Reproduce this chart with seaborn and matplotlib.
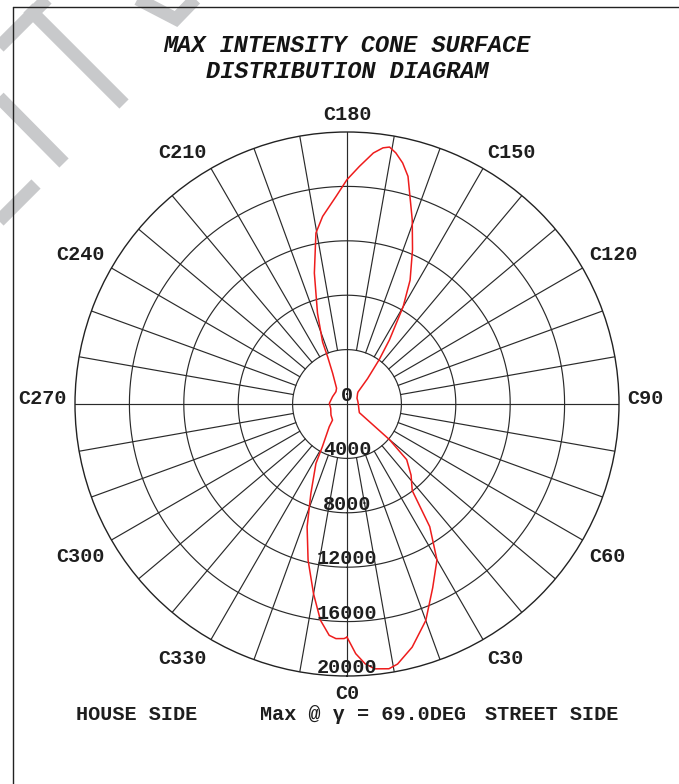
import numpy as np
import pandas as pd
import matplotlib
matplotlib.use("Agg")
import matplotlib.pyplot as plt
import seaborn as sns
from matplotlib.lines import Line2D
from matplotlib.transforms import ScaledTranslation

# ---- data (C-plane angle in degrees, max intensity) ----
c_angles = [0, 2, 4, 6, 9, 11, 15, 20, 25, 30, 34, 37, 42, 47, 50, 55, 63, 90, 105,
            120, 135, 137.5, 141, 144, 146.5, 150, 153, 157, 160.5, 165, 167, 169,
            170.6, 172, 174, 177, 180, 183, 187.4, 190.3, 194, 198, 201.5, 202.3,
            205, 213.5, 222, 243, 268, 285, 304.5, 318, 322, 330, 332.4, 338, 342,
            346, 350, 353, 355.6, 357.3, 359.3, 360]
intensity = [17140, 18370, 19150, 19580, 19710, 19480, 18510, 16940, 14910, 13230,
             10880, 7970, 7040, 6000, 4080, 1110, 990, 830, 820, 850, 1100, 1200,
             2400, 4010, 5650, 8250, 10220, 12330, 14370, 17330, 18190, 18810,
             19150, 19020, 18560, 17500, 16500, 15290, 13910, 12780, 9920, 7020,
             4900, 3760, 2500, 1390, 1215, 1190, 1300, 1240, 1430, 1590, 2120,
             3620, 4930, 7090, 9490, 11830, 14170, 16020, 17060, 17270, 17250, 17140]

ring_values = [4000, 8000, 12000, 16000, 20000]
ring_labels = ["0", "4000", "8000", "12000", "16000", "20000"]
c_label_angles = list(range(0, 360, 30))
spoke_angles = list(range(0, 360, 10))

title_lines = ["MAX INTENSITY CONE SURFACE", "DISTRIBUTION DIAGRAM"]
house_text = "HOUSE SIDE"
max_text = "Max @ \u03b3 = 69.0DEG"
street_text = "STREET SIDE"

sns.set_style("white")
plt.rcParams['font.family'] = ['Liberation Mono', 'DejaVu Sans Mono', 'DejaVu Sans']

W, H = 679, 784
DPI = 100
fig = plt.figure(figsize=(W / DPI, H / DPI), dpi=DPI)
fig.patch.set_facecolor("white")

def fx(px):
    return px / W

def fy(py):
    return 1 - py / H

# polar axes: center (347,404), outer radius 272 px
cx, cy, R = 347, 404, 272
ax = fig.add_axes([fx(cx - R), fy(cy + R), 2 * R / W, 2 * R / H], projection="polar")
ax.set_theta_zero_location("S")
ax.set_theta_direction(1)
ax.set_ylim(0, 20000)
ax.set_xticks([])
ax.set_yticks([])
ax.grid(False)
ax.spines["polar"].set_color("#222222")
ax.spines["polar"].set_linewidth(1.0)

gcol = "#2a2a2a"
glw = 0.85
th = np.linspace(0, 2 * np.pi, 721)
for rv in ring_values[:-1]:
    ax.plot(th, np.full_like(th, rv), color=gcol, lw=glw, zorder=1)
for a in spoke_angles:
    t = np.deg2rad(a)
    r0 = 0 if a % 90 == 0 else ring_values[0]
    ax.plot([t, t], [r0, ring_values[-1]], color=gcol, lw=glw, zorder=1)

df = pd.DataFrame({"theta": np.deg2rad(c_angles), "value": intensity})
sns.lineplot(data=df, x="theta", y="value", sort=False, estimator=None,
             color="#ee1c1c", lw=1.1, ax=ax, zorder=3)
ax.set_xlabel("")
ax.set_ylabel("")

fs = 14.5
tcol = "#1e1e1e"
# radial labels along C0 direction
for i, lab in enumerate(ring_labels):
    rv = 0 if i == 0 else ring_values[i - 1]
    tr = ax.transData + ScaledTranslation(0, 3 / DPI, fig.dpi_scale_trans)
    ax.text(0, rv, lab, ha="center", va="baseline", fontsize=fs, fontweight="bold",
            color=tcol, transform=tr, zorder=4)

# C-plane labels
rl = 20000 * 280 / 272
for a in c_label_angles:
    t = np.deg2rad(a)
    if a in (0, 180):
        ha = "center"
    elif a < 180:
        ha = "left"
    else:
        ha = "right"
    dy = 0
    if a in (90, 270):
        va = "baseline"
    elif a < 90 or a > 270:
        va = "top"
        if a != 0:
            dy = -3
    else:
        va = "bottom"
    tr = ax.transData + ScaledTranslation(0, dy / DPI, fig.dpi_scale_trans)
    ax.text(t, rl, f"C{a}", ha=ha, va=va, fontsize=fs, fontweight="bold",
            color=tcol, clip_on=False, transform=tr)

# title
fig.text(fx(cx), fy(46), title_lines[0], ha="center", va="center", fontsize=17,
         fontweight="bold", style="italic", color="#141414")
fig.text(fx(cx), fy(71), title_lines[1], ha="center", va="center", fontsize=17,
         fontweight="bold", style="italic", color="#141414")

# bottom texts
fig.text(fx(76), fy(715), house_text, ha="left", va="center", fontsize=fs,
         fontweight="bold", color=tcol)
fig.text(fx(260), fy(715), max_text, ha="left", va="center", fontsize=fs,
         fontweight="bold", color=tcol)
fig.text(fx(485), fy(715), street_text, ha="left", va="center", fontsize=fs,
         fontweight="bold", color=tcol)

# frame (top and left edges)
fig.add_artist(Line2D([fx(13), fx(W + 5)], [fy(7), fy(7)], transform=fig.transFigure,
                      color="#222222", lw=1.0))
fig.add_artist(Line2D([fx(13), fx(13)], [fy(7), fy(H + 5)], transform=fig.transFigure,
                      color="#222222", lw=1.0))

# faint watermark strokes in the top-left corner
wm = [
    [(-20, 66), (66, -20)],
    [(28, 8), (124, 104)],
    [(-20, 78), (64, 163)],
    [(-20, 240), (36, 184)],
    [(124, -8), (176, 19), (210, -16)],
]
for seg in wm:
    xs = [fx(p[0]) for p in seg]
    ys = [fy(p[1]) for p in seg]
    fig.add_artist(Line2D(xs, ys, transform=fig.transFigure, color="#c8c9cb",
                          lw=13 * 72 / DPI, solid_capstyle="butt",
                          solid_joinstyle="miter", zorder=-2))

fig.savefig("out.png", dpi=DPI)
